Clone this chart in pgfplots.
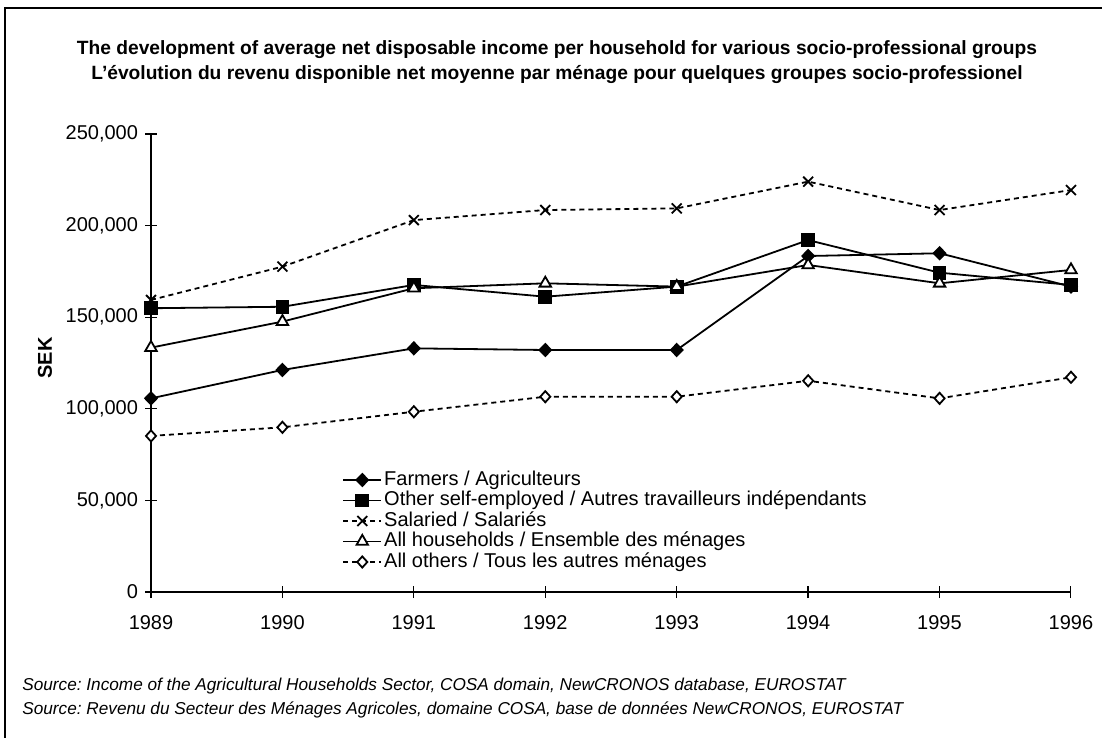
\documentclass[border=0pt]{standalone}
\usepackage{fontspec}
\setmainfont{Liberation Sans}
\usepackage{pgfplots}
\pgfplotsset{compat=1.18}
\frenchspacing
\begin{document}
\begin{tikzpicture}
\begin{scope}[x=0.5pt,y=-0.5pt]
\path[use as bounding box] (0,0) rectangle (1102,738);
\draw[line width=0.8pt] (5,738) -- (5,8) -- (1102,8);
\node[font=\fontsize{9.6}{11}\selectfont\bfseries] at (557,50) {The development of average net disposable income per household for various socio-professional groups};
\node[font=\fontsize{9.6}{11}\selectfont\bfseries] at (557,74) {L{\char"0027}évolution du revenu disponible net moyenne par ménage pour quelques groupes socio-professionel};
\node[font=\fontsize{10}{12}\selectfont\bfseries, rotate=90] at (45,358) {SEK};
\node[anchor=west, font=\fontsize{8.6}{11}\selectfont\itshape, inner sep=0pt] at (22,686) {Source: Income of the Agricultural Households Sector, COSA domain, NewCRONOS database, EUROSTAT};
\node[anchor=west, font=\fontsize{8.6}{11}\selectfont\itshape, inner sep=0pt] at (22,710) {Source: Revenu du Secteur des Ménages Agricoles, domaine COSA, base de données NewCRONOS, EUROSTAT};
\end{scope}
\begin{axis}[
  at={(75.5pt,-296pt)}, anchor=south west,
  scale only axis, width=460pt, height=229pt,
  xmin=1989, xmax=1996, ymin=0, ymax=250000,
  axis x line*=bottom, axis y line*=left,
  axis line style={line width=0.8pt, -},
  xtick={1989,...,1996},
  ytick={0,50000,100000,150000,200000,250000},
  scaled y ticks=false,
  tick align=center, major tick length=6pt,
  tick style={line width=0.6pt, black},
  every tick label/.append style={font=\fontsize{10}{12}\selectfont},
  /pgf/number format/assume math mode=true,
  xticklabel style={/pgf/number format/1000 sep={}, yshift=-5pt},
  yticklabel style={/pgf/number format/fixed, /pgf/number format/1000 sep={,}},
  clip=false,
  legend style={draw=none, fill=none, at={(0.2076,0.270)}, anchor=north west,
    font=\fontsize{10}{12}\selectfont, inner sep=0pt, row sep=-1pt,
    nodes={inner sep=1pt, text height=7.3pt, text depth=1.95pt}},
  legend cell align=left,
  legend image code/.code={\draw[mark repeat=2,mark phase=2] plot coordinates {(0pt,0pt) (9.5pt,0pt) (19pt,0pt)};},
  every axis plot/.append style={line width=0.9pt, black},
]
\addplot[mark=diamond*, mark size=3pt, mark options={fill=black, xscale=1.3}] coordinates {
 (1989,105700) (1990,121200) (1991,133000) (1992,132100) (1993,132100) (1994,183400) (1995,184900) (1996,166700)};
\addlegendentry{Farmers / Agriculteurs}
\addplot[mark=square*, mark size=3pt, mark options={fill=black}] coordinates {
 (1989,154900) (1990,155700) (1991,167600) (1992,161200) (1993,166700) (1994,192100) (1995,174300) (1996,167600)};
\addlegendentry{Other self-employed / Autres travailleurs indépendants}
\addplot[dash pattern=on 2.5pt off 2pt, mark=x, mark size=3.5pt, mark options={solid}] coordinates {
 (1989,159400) (1990,177600) (1991,203000) (1992,208500) (1993,209400) (1994,224000) (1995,208500) (1996,219400)};
\addlegendentry{Salaried / Salariés}
\addplot[mark=triangle*, mark size=3.3pt, mark options={fill=white}] coordinates {
 (1989,133400) (1990,147600) (1991,165800) (1992,168500) (1993,166700) (1994,178500) (1995,168500) (1996,175800)};
\addlegendentry{All households / Ensemble des ménages}
\addplot[dash pattern=on 2.5pt off 2pt, mark=diamond*, mark size=2.8pt, mark options={solid, fill=white, xscale=1.2}] coordinates {
 (1989,85200) (1990,89900) (1991,98400) (1992,106600) (1993,106600) (1994,115300) (1995,105700) (1996,117200)};
\addlegendentry{All others / Tous les autres ménages}
\end{axis}
\end{tikzpicture}
\end{document}
